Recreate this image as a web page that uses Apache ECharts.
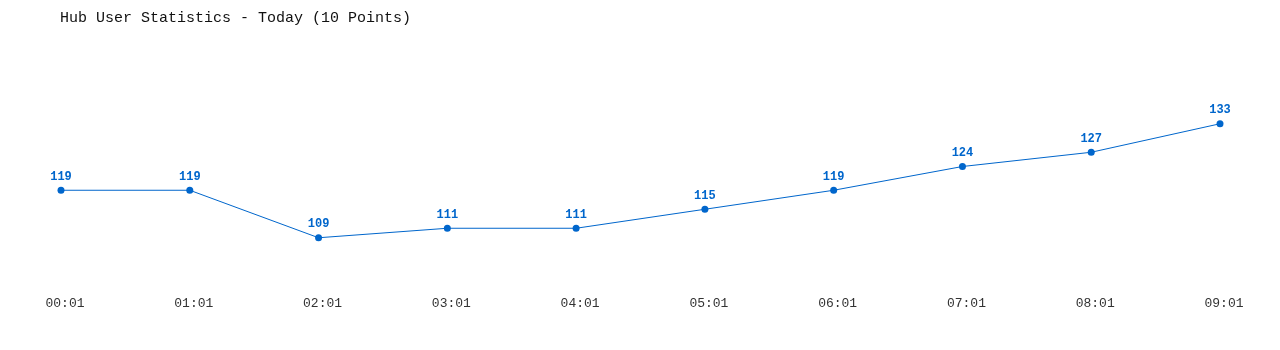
<!DOCTYPE html>
<html><head><meta charset="utf-8">
<script src="https://cdn.jsdelivr.net/npm/echarts@6/dist/echarts.min.js"></script>
<style>html,body{margin:0;padding:0;background:#fff}#c{width:1280px;height:350px}</style>
</head><body><div id="c"></div>
<script>
const categories = ["00:01","01:01","02:01","03:01","04:01","05:01","06:01","07:01","08:01","09:01"];
const users = [119,119,109,111,111,115,119,124,127,133];
const titleText = "Hub User Statistics - Today (10 Points)";

const chart = echarts.init(document.getElementById('c'));
chart.setOption({
  animation: false,
  backgroundColor: '#ffffff',
  title: {
    text: titleText,
    left: 55, top: 6,
    textStyle: { fontFamily: 'Liberation Mono', fontSize: 15, fontWeight: 'normal', color: '#111' }
  },
  grid: { left: 61, right: 60, top: 43, bottom: 69.5 },
  xAxis: {
    type: 'category', data: categories, boundaryGap: false,
    axisLine: { show: false }, axisTick: { show: false }, splitLine: { show: false },
    axisLabel: { margin: 17, padding: [0,0,0,8], fontFamily: 'Liberation Mono', fontSize: 13, color: '#333' }
  },
  yAxis: {
    type: 'value', min: 100, max: 150, show: false, splitLine: { show: false }
  },
  series: [{
    type: 'line', data: users,
    symbol: 'circle', symbolSize: 7,
    lineStyle: { color: '#0066cc', width: 1 },
    itemStyle: { color: '#0066cc' },
    label: { show: true, position: 'top', distance: 4, fontFamily: 'Liberation Mono', fontSize: 12, fontWeight: 'bold', color: '#0066cc' }
  }]
});
</script></body></html>
